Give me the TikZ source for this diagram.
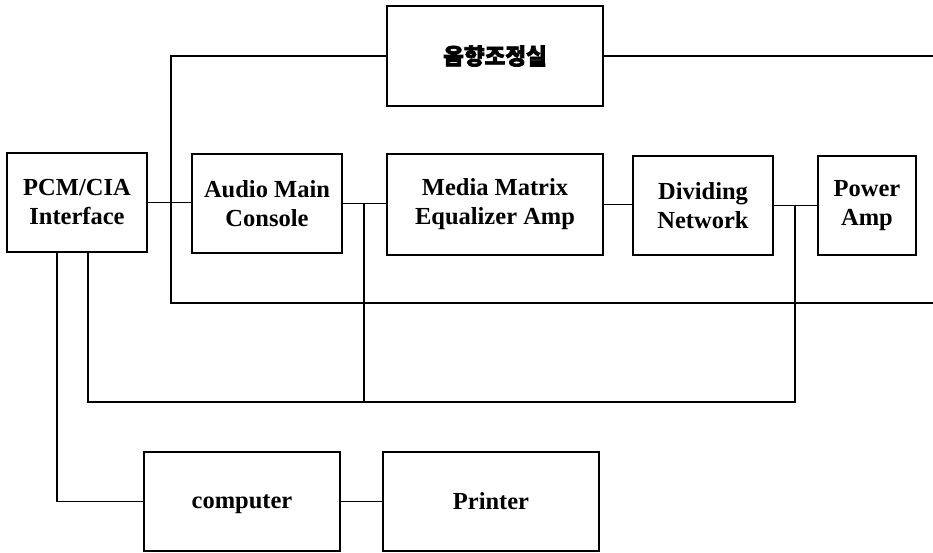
\documentclass[tikz,border=0pt]{standalone}
\usepackage{fontspec}
\setmainfont{Liberation Serif}
\newfontfamily\krfont{Noto Sans CJK KR}[FakeBold=3]
\usepackage{tikz}

\begin{document}
\begin{tikzpicture}[x=1pt, y=-1pt,
    blk/.style={draw, line width=1.2pt, inner sep=0pt, align=center,
                font=\fontsize{24.5}{29}\selectfont\bfseries},
    wire/.style={line width=1.2pt}]
  \useasboundingbox (0,0) rectangle (933,552);

  % control room box on top
  \node[blk, minimum width=216, minimum height=100] (ctrl) at (495,56)
    {\krfont\fontsize{22.5}{26}\selectfont 음향조정실};

  % main signal chain
  \node[blk, minimum width=140, minimum height=99] (pcm) at (77,202.5) {PCM/CIA\\Interface};
  \node[blk, minimum width=150, minimum height=99] (console) at (267,203.5) {Audio Main\\Console};
  \node[blk, minimum width=216, minimum height=101] (eq) at (495,204.5) {Media Matrix\\Equalizer Amp};
  \node[blk, minimum width=140, minimum height=99] (divnet) at (703,205.5) {Dividing\\Network};
  \node[blk, minimum width=98, minimum height=99] (pamp) at (867,205.5) {Power\\Amp};

  % computer and printer
  \node[blk, minimum width=196, minimum height=99, text depth=0pt] (comp) at (242,501.5) {computer};
  \node[blk, minimum width=216, minimum height=99] (prn) at (491,501.5) {Printer};

  % helper points
  \coordinate (j1) at (364,204);
  \coordinate (j2) at (795,206);
  \coordinate (busTop) at (171,303);
  \coordinate (outTop) at (933,56);
  \coordinate (outMid) at (933,303);
  \coordinate (tapA) at (57,500);
  \coordinate (tapB) at (88,402);

  % chain links (kept level)
  \draw[wire] (pcm.east) -- (pcm.east -| console.west);
  \draw[wire] (console.east) -- (console.east -| eq.west);
  \draw[wire] (eq.east) -- (eq.east -| divnet.west);
  \draw[wire] (divnet.east) -- (pamp.west);

  % control room lines
  \draw[wire] (ctrl.east) -- (outTop);
  \draw[wire] (ctrl.west) -| (busTop) -- (outMid);

  % return bus from PCM/CIA
  \draw[wire] (pcm.south -| tapB) |- (j2 |- tapB) -- (j2);
  \draw[wire] (j1) -- (j1 |- tapB);

  % PCM/CIA to computer to printer
  \draw[wire] (pcm.south -| tapA) |- (comp.west);
  \draw[wire] (comp.east) -- (prn.west);
\end{tikzpicture}
\end{document}
